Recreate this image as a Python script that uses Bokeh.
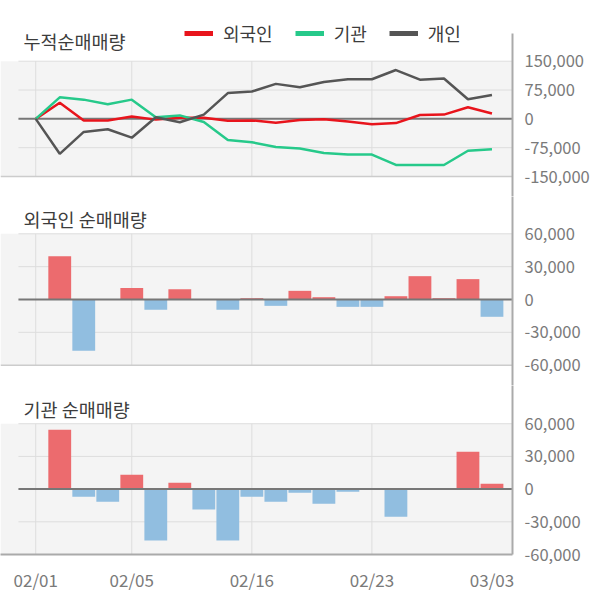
from bokeh.plotting import figure
from bokeh.models import (ColumnDataSource, FixedTicker, NumeralTickFormatter, Range1d,
                          BoxAnnotation, Label, Legend, LegendItem)
from bokeh.layouts import column
from bokeh.embed import file_html
from bokeh.resources import INLINE

# ---------------- data ----------------
dates = ["02/01", "02/02", "02/03", "02/04", "02/05", "02/08", "02/09", "02/10", "02/15", "02/16",
         "02/17", "02/18", "02/19", "02/22", "02/23", "02/24", "02/25", "02/26", "03/02", "03/03"]

foreign_cum = [0, 42000, -4500, -4500, 6000, -2000, 3000, 3000, -5000, -4000,
               -10000, -3000, -1000, -7000, -14000, -11000, 10000, 11000, 30000, 14000]
inst_cum = [0, 56000, 50000, 38000, 50000, 4000, 9000, -8000, -55000, -61000,
            -73000, -77000, -89000, -93000, -93000, -120000, -120000, -120000, -83000, -79000]
indiv_cum = [0, -91000, -34000, -27000, -49000, 4000, -9000, 11000, 67000, 71000,
             91000, 82000, 96000, 103000, 103000, 127000, 102000, 105000, 51000, 62000]

foreign_daily = [0, 39600, -46900, 0, 10400, -9400, 9400, 0, -9400, 1200,
                 -5800, 7900, 2100, -6700, -6700, 3000, 21300, 1200, 18600, -15800]
inst_daily = [0, 54400, -7000, -11600, 13100, -47100, 5800, -18600, -47100, -7000,
              -11600, -3400, -13500, -2400, 0, -25400, 0, 0, 34300, 4900]

cum_ticks = [150000, 75000, 0, -75000, -150000]
daily_ticks = [60000, 30000, 0, -30000, -60000]
date_tick_idx = [0, 4, 9, 14, 19]
vgrid_idx = [0, 4, 9, 14]

series_names = ["외국인", "기관", "개인"]
panel_titles = ["누적순매매량", "외국인 순매매량", "기관 순매매량"]

# ---------------- style ----------------
FONT = "Noto Sans CJK KR"
C_RED = "#e8141c"
C_GREEN = "#26c98a"
C_GRAY = "#555555"
BAR_POS = "#ec6b6e"
BAR_NEG = "#91bee0"
GRID = "#dddddd"
BOTTOM_GRID = "#cccccc"
AXIS = "#aaaaaa"
ZERO = "#777777"
BG = "#f4f4f4"
LABEL = "#7a7a7a"
TITLE = "#3c3c3c"

X_START, X_END = -1.467, 19.855
GRID_X0 = -0.72
FRAME_W = 513
W = 592

idx = list(range(len(dates)))


def make_fig(height, y_start, y_end, border_top, border_bottom, ticks, show_x, bounds=None):
    p = figure(width=W, height=height,
               x_range=Range1d(X_START, X_END), y_range=Range1d(y_start, y_end),
               output_backend="svg", toolbar_location=None,
               y_axis_location="right",
               x_axis_location="below" if show_x else None,
               min_border_left=0, min_border_right=W - FRAME_W,
               min_border_top=border_top, min_border_bottom=border_bottom)
    p.outline_line_color = None
    p.background_fill_color = "white"
    p.border_fill_color = "white"
    p.grid.visible = False

    ax = p.yaxis[0]
    ax.ticker = FixedTicker(ticks=ticks)
    ax.formatter = NumeralTickFormatter(format="0,0")
    if bounds is not None:
        ax.bounds = bounds
    ax.axis_line_color = AXIS
    ax.axis_line_width = 2
    ax.major_tick_line_color = None
    ax.minor_tick_line_color = None
    ax.major_tick_out = 0
    ax.major_tick_in = 0
    ax.major_label_standoff = 12
    ax.major_label_text_font = FONT
    ax.major_label_text_font_size = "16.5px"
    ax.major_label_text_color = LABEL

    p.add_layout(BoxAnnotation(bottom=ticks[-1], top=ticks[0], fill_color=BG, fill_alpha=1,
                               line_color=None, level="underlay"))

    hy = [t for t in ticks if t not in (0, ticks[-1])]
    p.segment(x0=[GRID_X0] * len(hy), x1=[X_END] * len(hy), y0=hy, y1=hy,
              line_color=GRID, line_width=1)
    p.segment(x0=vgrid_idx, x1=vgrid_idx, y0=[ticks[-1]] * len(vgrid_idx),
              y1=[ticks[0]] * len(vgrid_idx), line_color=GRID, line_width=1)
    if not show_x:
        p.segment(x0=[X_START], x1=[X_END], y0=[ticks[-1]], y1=[ticks[-1]],
                  line_color=BOTTOM_GRID, line_width=1.5)
    return p


def add_title(p, text, y):
    p.add_layout(Label(x=23, y=y, x_units="screen", y_units="screen", text=text,
                       text_font=FONT, text_font_size="18.5px", text_color=TITLE,
                       text_baseline="middle"))


def zero_line(p):
    p.segment(x0=[GRID_X0], x1=[X_END], y0=[0], y1=[0], line_color=ZERO, line_width=2)


# ---------------- panel 1: cumulative ----------------
f1 = make_fig(196, -202038, 307935, 0, 0, cum_ticks, False, bounds=(-202038, 222073))
zero_line(f1)
src1 = ColumnDataSource(dict(x=idx, foreign=foreign_cum, inst=inst_cum, indiv=indiv_cum))
f1.line("x", "foreign", source=src1, line_color=C_RED, line_width=2.5)
f1.line("x", "inst", source=src1, line_color=C_GREEN, line_width=2.5)
f1.line("x", "indiv", source=src1, line_color=C_GRAY, line_width=2.5)
# one-point lines (draw nothing) that only give the legend its thicker swatches
leg_r = [f1.line(x=[idx[0]], y=[s[0]], line_color=c, line_width=5)
         for c, s in ((C_RED, foreign_cum), (C_GREEN, inst_cum), (C_GRAY, indiv_cum))]
legend = Legend(items=[LegendItem(label=n, renderers=[r]) for n, r in zip(series_names, leg_r)],
                location=(184, 150), orientation="horizontal",
                glyph_width=29, glyph_height=20, label_height=20, label_standoff=10, spacing=22,
                padding=0, margin=0, border_line_color=None, background_fill_alpha=0,
                label_text_font=FONT, label_text_font_size="18px", label_text_color=TITLE)
f1.add_layout(legend)
add_title(f1, panel_titles[0], 156)

# ---------------- panel 2: foreign daily ----------------
f2 = make_fig(189, -78538, 94063, 0, 0, daily_ticks, False)
src2 = ColumnDataSource(dict(x=idx, v=foreign_daily,
                             c=[BAR_POS if v > 0 else BAR_NEG for v in foreign_daily]))
f2.vbar(x="x", top="v", bottom=0, width=0.95, fill_color="c", line_color=None, source=src2)
zero_line(f2)
add_title(f2, panel_titles[1], 167)

# ---------------- panel 3: institution daily ----------------
f3 = make_fig(211, -60000, 95083, 0, 42, daily_ticks, True)
src3 = ColumnDataSource(dict(x=idx, v=inst_daily,
                             c=[BAR_POS if v > 0 else BAR_NEG for v in inst_daily]))
f3.vbar(x="x", top="v", bottom=0, width=0.95, fill_color="c", line_color=None, source=src3)
zero_line(f3)
add_title(f3, panel_titles[2], 146)

xa = f3.xaxis[0]
xa.ticker = FixedTicker(ticks=date_tick_idx)
xa.major_label_overrides = {i: dates[i] for i in date_tick_idx}
xa.axis_line_color = AXIS
xa.axis_line_width = 2
xa.major_tick_line_color = None
xa.minor_tick_line_color = None
xa.major_tick_out = 0
xa.major_tick_in = 0
xa.major_label_standoff = 12
xa.major_label_text_font = FONT
xa.major_label_text_font_size = "17px"
xa.major_label_text_color = LABEL

layout = column(f1, f2, f3, spacing=0)
open("out.html", "w").write(file_html(layout, INLINE))
